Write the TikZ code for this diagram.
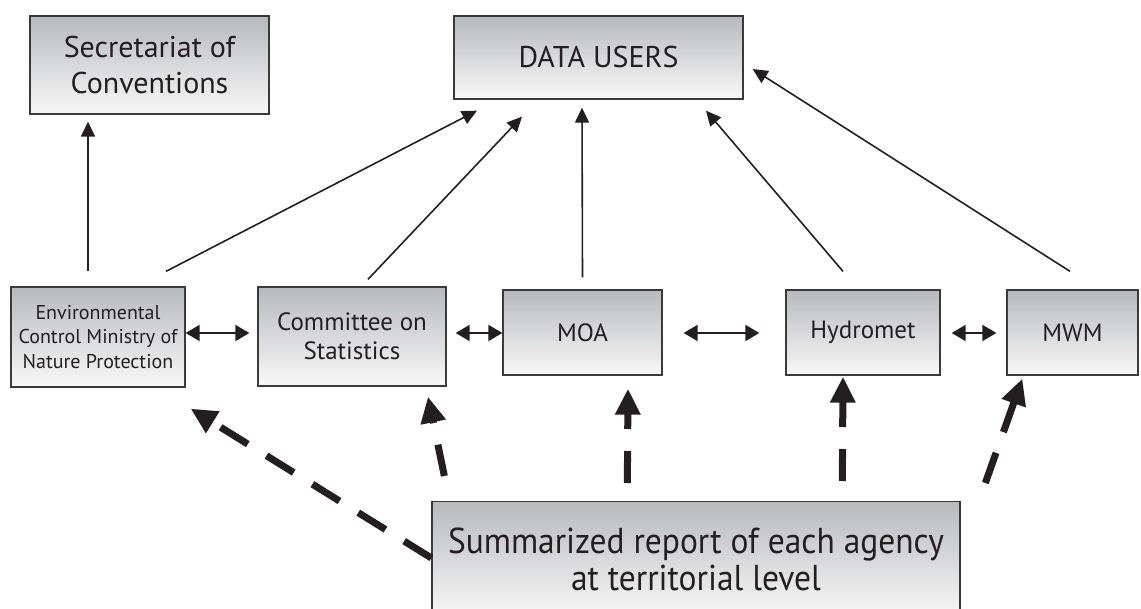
\documentclass[tikz,border=0pt]{standalone}
\usepackage{fontspec}
\setmainfont{PT Sans}
\usetikzlibrary{arrows.meta,calc}
\definecolor{ink}{RGB}{35,31,32}
\definecolor{boxtop}{RGB}{184,185,188}
\definecolor{boxbot}{RGB}{248,248,248}
\definecolor{boxline}{RGB}{58,58,58}
\begin{document}
\begin{tikzpicture}[x=1pt,y=-1pt,
  box/.style={draw=boxline,line width=1.3pt,top color=boxtop,bottom color=boxbot,
    rectangle,inner sep=0pt,align=center,text=ink},
  thinarr/.style={draw=ink,line width=1.6pt,-{Triangle[length=15pt,width=14pt]}},
  duo/.style={draw=ink,line width=2pt,{Triangle[length=14pt,width=16pt]}-{Triangle[length=14pt,width=16pt]}},
  bigdash/.style={draw=ink,line width=7pt,dash pattern=on 32pt off 22pt,-{Triangle[length=26pt,width=24pt]}}
]
\useasboundingbox (0,0) rectangle (1141,609);
\clip (0,0) rectangle (1141,609);

\node[box,minimum width=239pt,minimum height=98pt,font=\fontsize{30}{36}\selectfont] (sec) at (149.5,65) {Secretariat of\\Conventions};
\node[box,minimum width=289pt,minimum height=83pt,font=\fontsize{30}{36}\selectfont] (du) at (598.5,57.5) {DATA USERS};
\node[box,minimum width=174pt,minimum height=100pt,font=\fontsize{20}{24.5}\selectfont] (env) at (98,337) {Environmental\\Control Ministry of\\Nature Protection};
\node[box,minimum width=188pt,minimum height=99pt,font=\fontsize{25}{29}\selectfont] (com) at (352,336.5) {Committee on\\Statistics};
\node[box,minimum width=159pt,minimum height=85pt,font=\fontsize{25}{29}\selectfont] (moa) at (582.5,332.5) {MOA};
\node[box,minimum width=154pt,minimum height=85pt,font=\fontsize{25}{29}\selectfont] (hyd) at (863,332.5) {Hydromet};
\node[box,minimum width=131pt,minimum height=85pt,font=\fontsize{25}{29}\selectfont] (mwm) at (1072.5,332.5) {MWM};
\node[box,minimum width=528pt,minimum height=116pt,anchor=north,font=\fontsize{36}{37}\selectfont\addfontfeatures{FakeStretch=0.93}] (sum) at (696,501) {Summarized report of each agency\\at territorial level};

% thin arrows to upper boxes
\draw[thinarr] ($(env.north)+(-10,-15)$) -- ($(sec.south)+(-61.5,7)$);
\draw[thinarr] ($(env.north)+(68,-15)$) -- ($(du.south)+(-121.5,11)$);
\draw[thinarr] ($(com.north)+(16,-7)$) -- ($(du.south)+(-76.5,17)$);
\draw[thinarr] ($(moa.north)+(0,-12)$) -- ($(du.south)+(-16.5,8)$);
\draw[thinarr] ($(hyd.north)+(-20,-18)$) -- ($(du.south)+(107.5,11)$);
\draw[thinarr] ($(mwm.north)+(-2.5,-18)$) -- ($(du.east)+(9,11.5)$);

% double arrows
\draw[duo] ($(env.east)+(0,-4)$) -- ($(com.west)+(-8,-3.5)$);
\draw[duo] ($(com.east)+(9,-3.5)$) -- ($(moa.west)+(0,0.5)$);
\draw[duo] ($(moa.east)+(21,0.5)$) -- ($(hyd.west)+(-26,0.5)$);
\draw[duo] ($(hyd.east)+(11,0.5)$) -- ($(mwm.west)+(-10,0.5)$);

% thick dashed arrows from summarized report
\draw[bigdash] ($(sum.north west)+(0,57)$) -- ($(env.south east)+(5,21)$);
\draw[bigdash] ($(sum.north west)+(13,-25)$) -- ($(com.south)+(76,10)$);
\draw[bigdash] ($(sum.north west)+(196,-18)$) -- ($(moa.south)+(45.5,13)$);
\draw[bigdash] ($(sum.north west)+(411,-20)$) -- ($(hyd.south)+(-20,1)$);
\draw[bigdash] ($(sum.north west)+(554,-18)$) -- ($(mwm.south west)+(16,3)$);
\end{tikzpicture}
\end{document}
